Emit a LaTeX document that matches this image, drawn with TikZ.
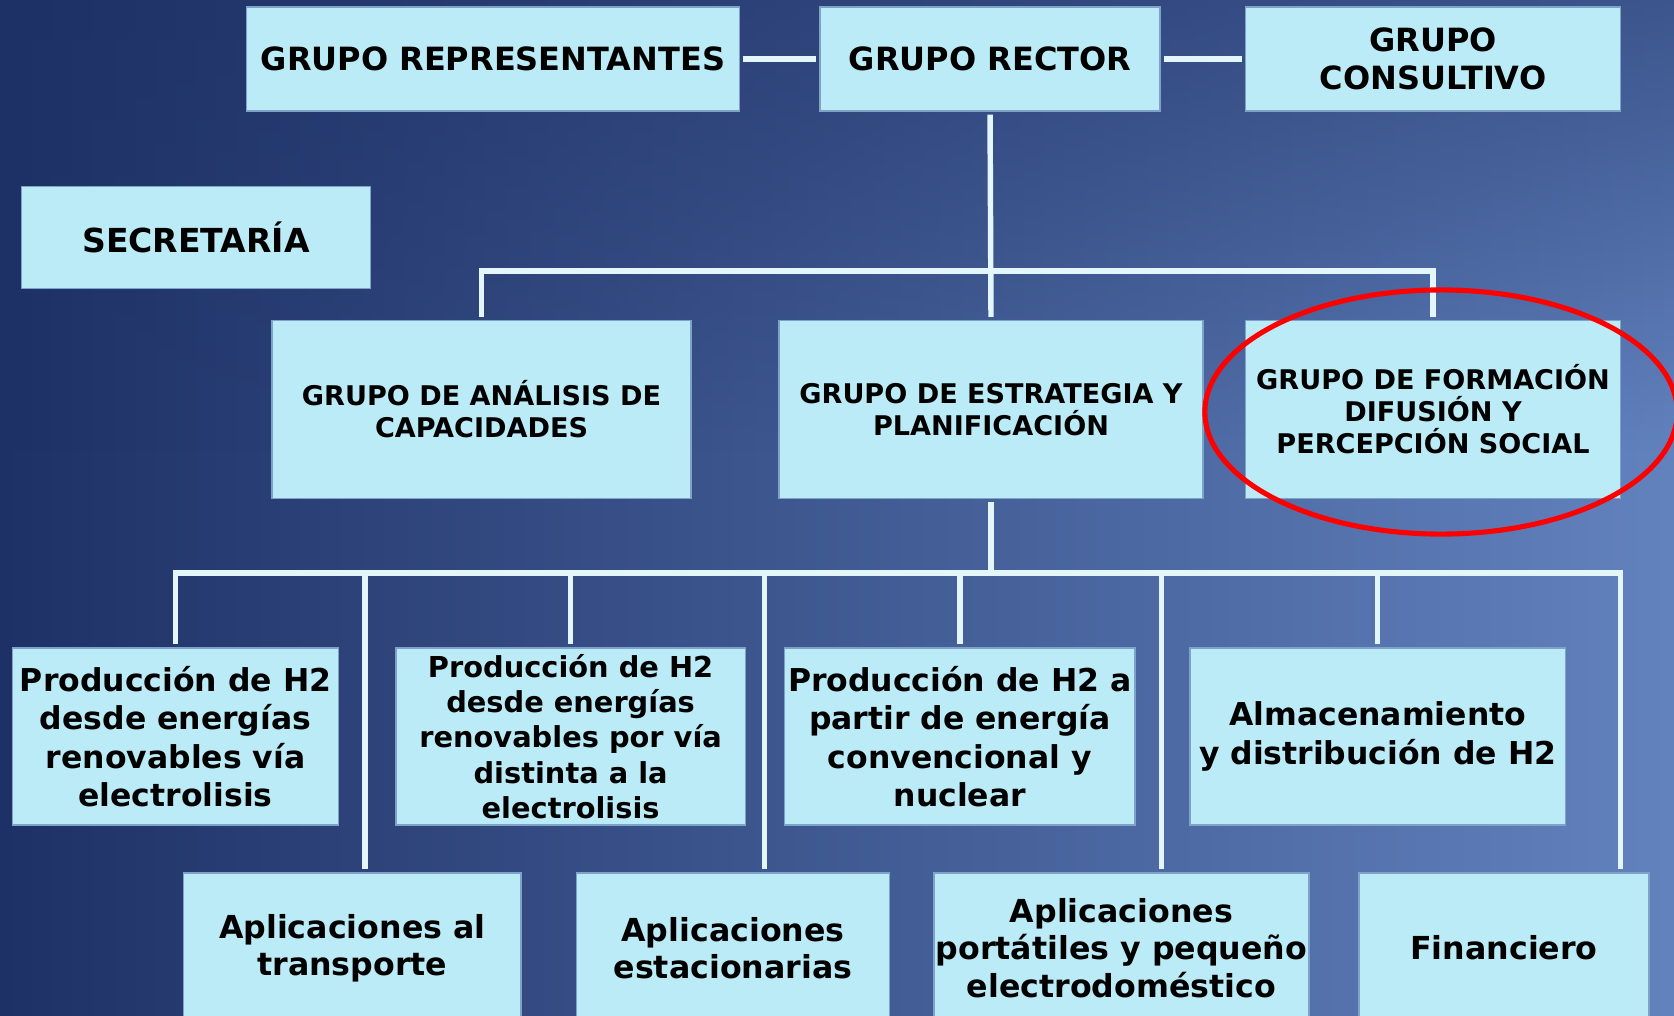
\documentclass[tikz,border=0pt]{standalone}
\usepackage{fontspec}
\setmainfont{DejaVu Sans}
\usetikzlibrary{positioning,fadings}

\definecolor{boxfill}{HTML}{BBEBF6}
\definecolor{boxedge}{HTML}{7FA3C8}
\definecolor{linkcol}{HTML}{E2F6FB}
\definecolor{bgdark}{HTML}{1E3166}
\definecolor{bgmidA}{HTML}{5A74AA}
\definecolor{bgmidB}{HTML}{6282BE}
\definecolor{ringred}{HTML}{FF0000}

\tikzfading[name=fadedown, top color=transparent!0, bottom color=transparent!100]

\begin{document}
\begin{tikzpicture}[x=0.01cm, y=-0.01cm,
  box/.style={rectangle, fill=boxfill, draw=boxedge, line width=0.4pt, align=center, inner sep=0pt,
    font=\bfseries\fontsize{9.1}{10.8}\selectfont},
  subbox/.style={box, minimum height=1.78cm, font=\bfseries\fontsize{7.7}{9.1}\selectfont},
  leaf/.style={box, minimum height=1.77cm, font=\bfseries\fontsize{8.95}{10.9}\selectfont},
  foot/.style={box, minimum height=1.50cm, font=\bfseries\fontsize{9}{10.6}\selectfont},
  link/.style={draw=linkcol, line width=1.55pt, shorten <=0.8pt, shorten >=0.8pt}]

  % background
  \useasboundingbox (0,0) rectangle (1674,1015);
  \shade[left color=bgdark, middle color=bgmidA, right color=bgmidB] (0,0) rectangle (1674,1015);
  \fill[bgdark, path fading=fadedown, fill opacity=0.55] (0,0) rectangle (1674,450);

  % top row
  \node[box, minimum width=4.93cm, minimum height=1.04cm] (rep) at (493,59) {GRUPO REPRESENTANTES};
  \node[box, minimum width=3.40cm, minimum height=1.04cm] (rector) at (990,59) {GRUPO RECTOR};
  \node[box, minimum width=3.75cm, minimum height=1.04cm] (consult) at (1433,59) {GRUPO\\CONSULTIVO};
  \node[box, minimum width=3.49cm, minimum height=1.015cm, font=\bfseries\fontsize{9.4}{10.8}\selectfont] (secret) at (196,237.5) {SECRETARÍA};

  % groups
  \node[subbox, minimum width=4.19cm] (analisis) at (481.5,409.5) {GRUPO DE ANÁLISIS DE\\CAPACIDADES};
  \node[subbox, minimum width=4.24cm] (estrategia) at (991,409.5) {GRUPO DE ESTRATEGIA Y\\PLANIFICACIÓN};
  \node[subbox, minimum width=3.75cm] (formacion) at (1433,409.5) {GRUPO DE FORMACIÓN\\DIFUSIÓN Y\\PERCEPCIÓN SOCIAL};

  % working groups
  \node[leaf, minimum width=3.26cm] (prodA) at (175.6,736.5) {Producción de H2\\desde energías\\renovables vía\\electrolisis};
  \node[leaf, minimum width=3.49cm, font=\bfseries\fontsize{8.2}{10}\selectfont] (prodB) at (570.6,736.5) {Producción de H2\\desde energías\\renovables por vía\\distinta a la\\electrolisis};
  \node[leaf, minimum width=3.50cm] (prodC) at (959.8,736.5) {Producción de H2 a\\partir de energía\\convencional y\\nuclear};
  \node[leaf, minimum width=3.75cm] (almac) at (1377.7,736.5) {Almacenamiento\\y distribución de H2};

  \node[foot, minimum width=3.37cm] (transp) at (352.3,948) {Aplicaciones al\\transporte};
  \node[foot, minimum width=3.13cm] (estac) at (733,948) {Aplicaciones\\estacionarias};
  \node[foot, minimum width=3.75cm] (portat) at (1121.5,948) {Aplicaciones\\portátiles y pequeño\\electrodoméstico};
  \node[foot, minimum width=2.90cm] (financ) at (1504,948) {Financiero};

  % connectors
  \draw[link] (rep) -- (rector);
  \draw[link] (rector) -- (consult);
  \coordinate (busA) at (990,271);
  \draw[link] (rector.south) -- (estrategia.north);
  \draw[link] (analisis.north) |- (busA) -| (formacion.north);

  \coordinate (busB) at (991,573);
  \coordinate (tapA) at (365,573);
  \coordinate (tapB) at (764.4,573);
  \coordinate (tapC) at (1161.5,573);
  \coordinate (tapD) at (1620.6,573);
  \draw[link] (estrategia.south) -- (busB);
  \draw[link] (prodA.north) |- (tapD) -- (tapD |- financ.north);
  \foreach \n in {prodB,prodC,almac}
    \draw[link] (\n.north) -- (\n.north |- busB);
  \draw[link] (tapA) -- (tapA |- transp.north);
  \draw[link] (tapB) -- (tapB |- estac.north);
  \draw[link] (tapC) -- (tapC |- portat.north);

  % highlight
  \draw[ringred, line width=1.45pt] (1441,412) ellipse [x radius=2.36cm, y radius=1.22cm];
\end{tikzpicture}
\end{document}
